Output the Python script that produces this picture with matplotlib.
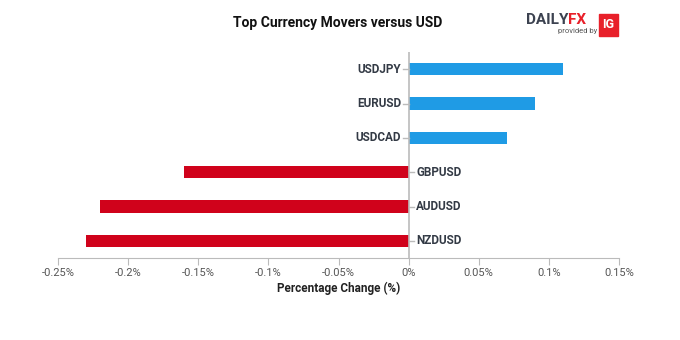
import matplotlib.pyplot as plt
from matplotlib.patches import Rectangle

pairs = ['USDJPY', 'EURUSD', 'USDCAD', 'GBPUSD', 'AUDUSD', 'NZDUSD']
changes = [0.11, 0.09, 0.07, -0.16, -0.22, -0.23]
ticks = [-0.25, -0.2, -0.15, -0.1, -0.05, 0, 0.05, 0.1, 0.15]
tick_labels = ['-0.25%', '-0.2%', '-0.15%', '-0.1%', '-0.05%', '0%', '0.05%', '0.1%', '0.15%']

BLUE = '#1f9be5'
RED = '#d0021b'
DARK = '#333a45'
GRAY = '#bbbbbb'

plt.rcParams['font.family'] = ['Roboto', 'DejaVu Sans']

fig = plt.figure(figsize=(6.8, 3.4), dpi=100)
ax = fig.add_axes([58 / 680, 1 - 258 / 340, 561 / 680, 206 / 340])

ypos = list(range(len(pairs)))
colors = [BLUE if v >= 0 else RED for v in changes]
ax.barh(ypos, changes, height=0.36, color=colors)
ax.set_ylim(len(pairs) - 0.5, -0.5)
ax.set_xlim(ticks[0], ticks[-1])

ax.axvline(0, color=GRAY, lw=1.2, zorder=3)
for y, name, v in zip(ypos, pairs, changes):
    if v >= 0:
        ax.plot([-0.0038, 0], [y, y], color=GRAY, lw=1, clip_on=False)
        ax.annotate(name, (0, y), xytext=(-5.5, 0), textcoords='offset points',
                    ha='right', va='center', fontsize=8.5, fontweight='bold', color=DARK)
    else:
        ax.plot([0, 0.0038], [y, y], color=GRAY, lw=1, clip_on=False)
        ax.annotate(name, (0, y), xytext=(5.5, 0), textcoords='offset points',
                    ha='left', va='center', fontsize=8.5, fontweight='bold', color=DARK)

for s in ['top', 'right', 'left']:
    ax.spines[s].set_visible(False)
ax.spines['bottom'].set_color(GRAY)
ax.set_yticks([])
ax.set_xticks(ticks)
ax.set_xticklabels(tick_labels)
ax.tick_params(axis='x', colors=GRAY, length=5, labelsize=8, labelcolor='#555555', pad=2)
ax.set_xlabel('Percentage Change (%)', fontsize=8.5, fontweight='bold', color='#222222', labelpad=3)

fig.text(338 / 680, 1 - 23 / 340, 'Top Currency Movers versus USD', ha='center', va='center',
         fontsize=10, fontweight='bold', color='#111111')

# logo
fig.text(526 / 680, 1 - 20 / 340, 'DAILY', ha='left', va='center', fontsize=11,
         fontweight='bold', color='#3c4250')
fig.text(568 / 680, 1 - 20 / 340, 'FX', ha='left', va='center', fontsize=11,
         fontweight='bold', color='#e8202a')
fig.text(558 / 680, 1 - 31 / 340, 'provided by', ha='left', va='center', fontsize=5.5,
         color='#555555')
fig.patches.append(Rectangle((599 / 680, 1 - 36 / 340), 19 / 680, 22 / 340,
                             transform=fig.transFigure, color='#e8202a'))
fig.text(608.5 / 680, 1 - 25 / 340, 'IG', ha='center', va='center', fontsize=9,
         fontweight='bold', color='white')

fig.savefig('out.png', dpi=100)
